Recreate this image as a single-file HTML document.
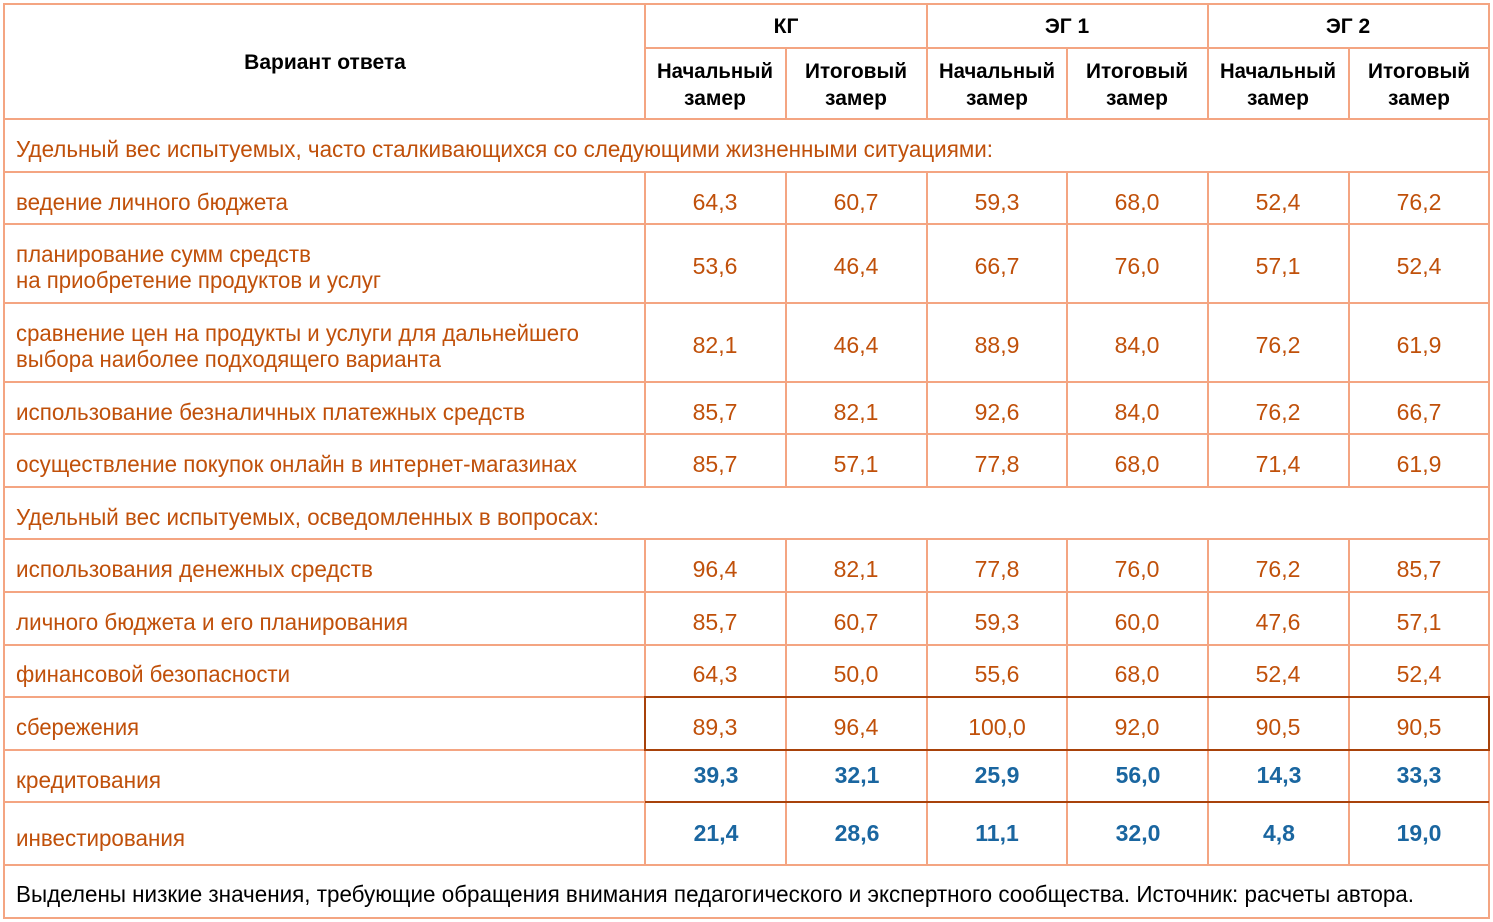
<!DOCTYPE html>
<html><head><meta charset="utf-8"><style>
html,body{margin:0;padding:0;background:#fff;}
svg{display:block;}
text{font-family:"Liberation Sans",sans-serif;}
.o{fill:#c0500a;font-size:23px;}
.n{fill:#c0500a;font-size:23px;text-anchor:middle;}
.b{fill:#1a66a0;font-size:23px;font-weight:bold;text-anchor:middle;}
.h{fill:#000;font-size:21px;font-weight:bold;text-anchor:middle;}
.f{fill:#000;font-size:23px;}
</style></head><body>
<svg width="1493" height="922" viewBox="0 0 1493 922" xmlns="http://www.w3.org/2000/svg">
<rect width="1493" height="922" fill="#fff"/>
<g stroke="#f4a582" stroke-width="2" fill="none">
<rect x="4" y="4" width="1485" height="914"/>
<line x1="645" y1="48" x2="1489" y2="48"/>
<line x1="4" y1="119" x2="1489" y2="119"/>
<line x1="4" y1="172" x2="1489" y2="172"/>
<line x1="4" y1="224" x2="1489" y2="224"/>
<line x1="4" y1="303" x2="1489" y2="303"/>
<line x1="4" y1="382" x2="1489" y2="382"/>
<line x1="4" y1="434" x2="1489" y2="434"/>
<line x1="4" y1="487" x2="1489" y2="487"/>
<line x1="4" y1="539" x2="1489" y2="539"/>
<line x1="4" y1="592" x2="1489" y2="592"/>
<line x1="4" y1="645" x2="1489" y2="645"/>
<line x1="4" y1="697" x2="645" y2="697"/>
<line x1="4" y1="750" x2="645" y2="750"/>
<line x1="4" y1="802" x2="645" y2="802"/>
<line x1="4" y1="865" x2="1489" y2="865"/>
<line x1="645" y1="4" x2="645" y2="119"/>
<line x1="927" y1="4" x2="927" y2="119"/>
<line x1="1208" y1="4" x2="1208" y2="119"/>
<line x1="786" y1="48" x2="786" y2="119"/>
<line x1="1067" y1="48" x2="1067" y2="119"/>
<line x1="1349" y1="48" x2="1349" y2="119"/>
<g>
<line x1="645" y1="172" x2="645" y2="487"/><line x1="786" y1="172" x2="786" y2="487"/><line x1="927" y1="172" x2="927" y2="487"/><line x1="1067" y1="172" x2="1067" y2="487"/><line x1="1208" y1="172" x2="1208" y2="487"/><line x1="1349" y1="172" x2="1349" y2="487"/>
<line x1="645" y1="539" x2="645" y2="865"/><line x1="786" y1="539" x2="786" y2="865"/><line x1="927" y1="539" x2="927" y2="865"/><line x1="1067" y1="539" x2="1067" y2="865"/><line x1="1208" y1="539" x2="1208" y2="865"/><line x1="1349" y1="539" x2="1349" y2="865"/>
</g>
</g>
<g stroke="#a8420a" stroke-width="2" fill="none">
<rect x="645" y="697" width="844" height="53"/>
<line x1="645" y1="802" x2="1489" y2="802"/>
</g>

<text class="h" x="325" y="69">Вариант ответа</text>
<text class="h" x="786" y="33">КГ</text>
<text class="h" x="1067" y="33">ЭГ 1</text>
<text class="h" x="1348" y="33">ЭГ 2</text>
<g class="h">
<text x="715" y="78" textLength="116" lengthAdjust="spacingAndGlyphs">Начальный</text><text x="715" y="105">замер</text>
<text x="856" y="78" textLength="102" lengthAdjust="spacingAndGlyphs">Итоговый</text><text x="856" y="105">замер</text>
<text x="997" y="78" textLength="116" lengthAdjust="spacingAndGlyphs">Начальный</text><text x="997" y="105">замер</text>
<text x="1137" y="78" textLength="102" lengthAdjust="spacingAndGlyphs">Итоговый</text><text x="1137" y="105">замер</text>
<text x="1278" y="78" textLength="116" lengthAdjust="spacingAndGlyphs">Начальный</text><text x="1278" y="105">замер</text>
<text x="1419" y="78" textLength="102" lengthAdjust="spacingAndGlyphs">Итоговый</text><text x="1419" y="105">замер</text>
</g>

<g class="o">
<text x="16" y="157" textLength="977" lengthAdjust="spacingAndGlyphs">Удельный вес испытуемых, часто сталкивающихся со следующими жизненными ситуациями:</text>
<text x="16" y="210" textLength="272" lengthAdjust="spacingAndGlyphs">ведение личного бюджета</text>
<text x="16" y="262" textLength="295" lengthAdjust="spacingAndGlyphs">планирование сумм средств</text>
<text x="16" y="288" textLength="365" lengthAdjust="spacingAndGlyphs">на приобретение продуктов и услуг</text>
<text x="16" y="341" textLength="563" lengthAdjust="spacingAndGlyphs">сравнение цен на продукты и услуги для дальнейшего</text>
<text x="16" y="367" textLength="425" lengthAdjust="spacingAndGlyphs">выбора наиболее подходящего варианта</text>
<text x="16" y="420" textLength="509" lengthAdjust="spacingAndGlyphs">использование безналичных платежных средств</text>
<text x="16" y="472" textLength="561" lengthAdjust="spacingAndGlyphs">осуществление покупок онлайн в интернет-магазинах</text>
<text x="16" y="525" textLength="583" lengthAdjust="spacingAndGlyphs">Удельный вес испытуемых, осведомленных в вопросах:</text>
<text x="16" y="577" textLength="357" lengthAdjust="spacingAndGlyphs">использования денежных средств</text>
<text x="16" y="630" textLength="392" lengthAdjust="spacingAndGlyphs">личного бюджета и его планирования</text>
<text x="16" y="682" textLength="274" lengthAdjust="spacingAndGlyphs">финансовой безопасности</text>
<text x="16" y="735" textLength="123" lengthAdjust="spacingAndGlyphs">сбережения</text>
<text x="16" y="788" textLength="145" lengthAdjust="spacingAndGlyphs">кредитования</text>
<text x="16" y="846" textLength="169" lengthAdjust="spacingAndGlyphs">инвестирования</text>
</g>

<g class="n">
<text x="715" y="210">64,3</text><text x="856" y="210">60,7</text><text x="997" y="210">59,3</text><text x="1137" y="210">68,0</text><text x="1278" y="210">52,4</text><text x="1419" y="210">76,2</text>
<text x="715" y="274">53,6</text><text x="856" y="274">46,4</text><text x="997" y="274">66,7</text><text x="1137" y="274">76,0</text><text x="1278" y="274">57,1</text><text x="1419" y="274">52,4</text>
<text x="715" y="353">82,1</text><text x="856" y="353">46,4</text><text x="997" y="353">88,9</text><text x="1137" y="353">84,0</text><text x="1278" y="353">76,2</text><text x="1419" y="353">61,9</text>
<text x="715" y="420">85,7</text><text x="856" y="420">82,1</text><text x="997" y="420">92,6</text><text x="1137" y="420">84,0</text><text x="1278" y="420">76,2</text><text x="1419" y="420">66,7</text>
<text x="715" y="472">85,7</text><text x="856" y="472">57,1</text><text x="997" y="472">77,8</text><text x="1137" y="472">68,0</text><text x="1278" y="472">71,4</text><text x="1419" y="472">61,9</text>
<text x="715" y="577">96,4</text><text x="856" y="577">82,1</text><text x="997" y="577">77,8</text><text x="1137" y="577">76,0</text><text x="1278" y="577">76,2</text><text x="1419" y="577">85,7</text>
<text x="715" y="630">85,7</text><text x="856" y="630">60,7</text><text x="997" y="630">59,3</text><text x="1137" y="630">60,0</text><text x="1278" y="630">47,6</text><text x="1419" y="630">57,1</text>
<text x="715" y="682">64,3</text><text x="856" y="682">50,0</text><text x="997" y="682">55,6</text><text x="1137" y="682">68,0</text><text x="1278" y="682">52,4</text><text x="1419" y="682">52,4</text>
<text x="715" y="735">89,3</text><text x="856" y="735">96,4</text><text x="997" y="735">100,0</text><text x="1137" y="735">92,0</text><text x="1278" y="735">90,5</text><text x="1419" y="735">90,5</text>
</g>
<g class="b">
<text x="716" y="783">39,3</text><text x="857" y="783">32,1</text><text x="997" y="783">25,9</text><text x="1138" y="783">56,0</text><text x="1279" y="783">14,3</text><text x="1419" y="783">33,3</text>
<text x="716" y="841">21,4</text><text x="857" y="841">28,6</text><text x="997" y="841">11,1</text><text x="1138" y="841">32,0</text><text x="1279" y="841">4,8</text><text x="1419" y="841">19,0</text>
</g>
<text class="f" x="16" y="902" textLength="1398" lengthAdjust="spacingAndGlyphs">Выделены низкие значения, требующие обращения внимания педагогического и экспертного сообщества. Источник: расчеты автора.</text>
</svg>
</body></html>
